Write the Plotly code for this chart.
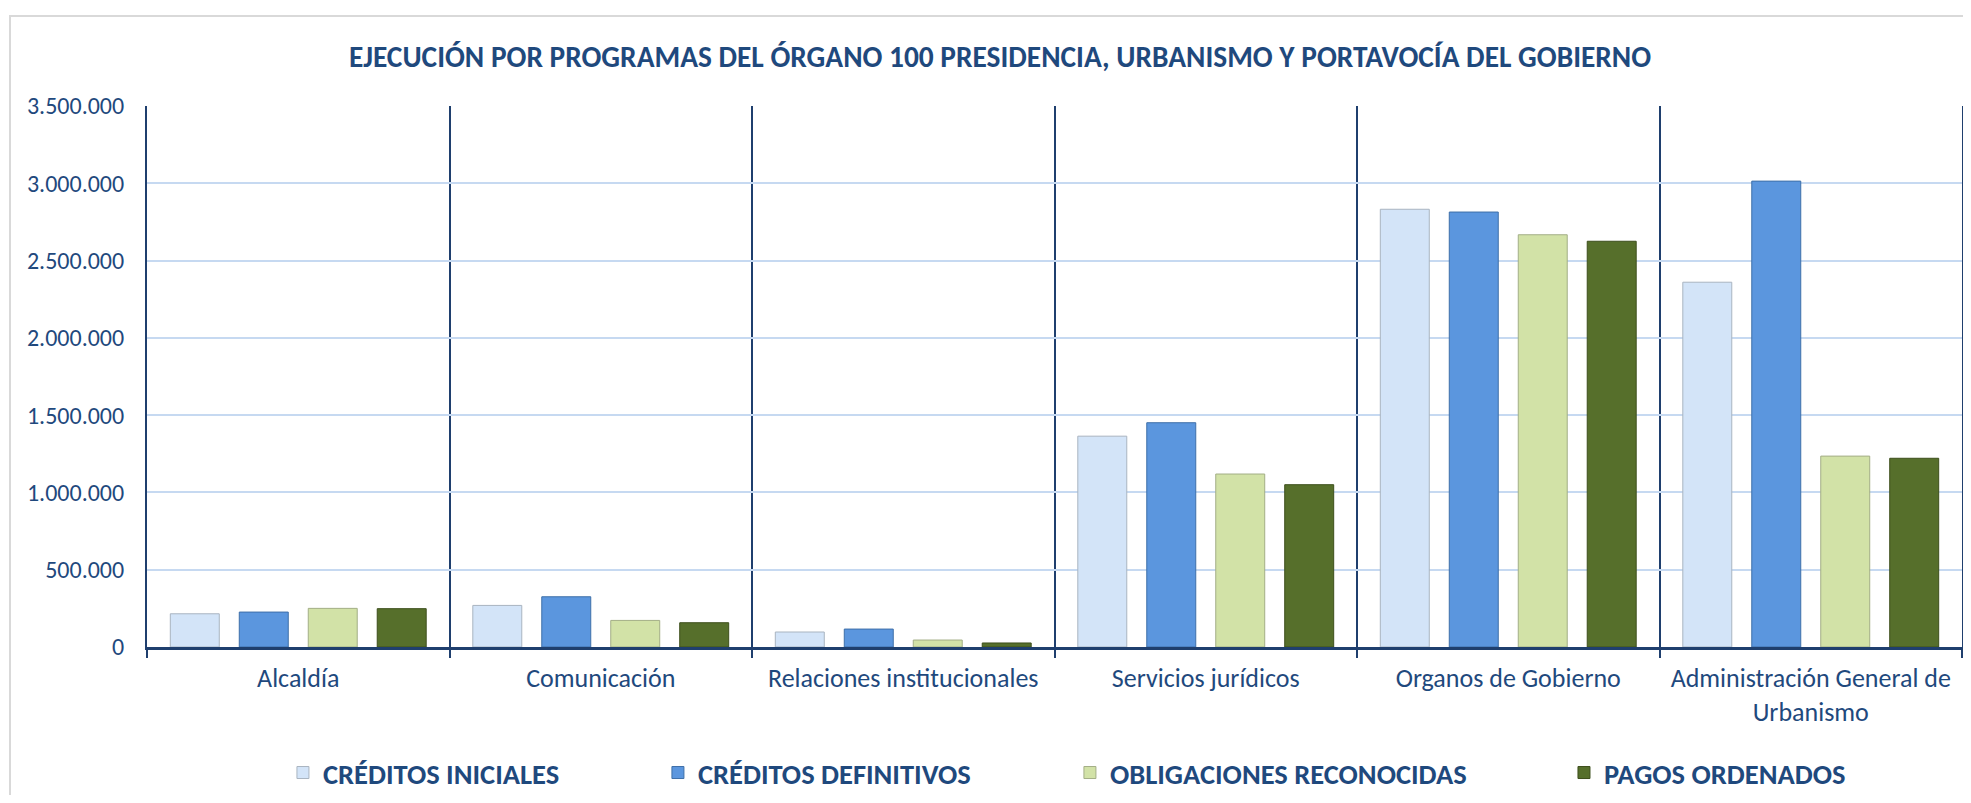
import plotly.graph_objects as go

categories = [
    "Alcaldía",
    "Comunicación",
    "Relaciones institucionales",
    "Servicios jurídicos",
    "Organos de Gobierno",
    "Administración General de<br>Urbanismo",
]
creditos_iniciales = [215000, 269000, 97000, 1364000, 2832000, 2360000]
creditos_definitivos = [226000, 325000, 116000, 1451000, 2814000, 3014000]
obligaciones_reconocidas = [250000, 172000, 45000, 1119000, 2667000, 1235000]
pagos_ordenados = [248000, 157000, 26000, 1050000, 2625000, 1221000]

series_names = ["CRÉDITOS INICIALES", "CRÉDITOS DEFINITIVOS",
                "OBLIGACIONES RECONOCIDAS", "PAGOS ORDENADOS"]
series_values = [creditos_iniciales, creditos_definitivos,
                 obligaciones_reconocidas, pagos_ordenados]
fill_colors = ["#D3E4F8", "#5B96DE", "#D2E2A7", "#566F2B"]
line_colors = ["#A9B4C0", "#3E6FA8", "#A3AE86", "#3D4F1C"]
legend_ids = ["legend", "legend2", "legend3", "legend4"]
legend_x = [0.0749, 0.2815, 0.5085, 0.7807]

TEXT = "#1F497D"
AXIS = "#1F3F6E"
GRID = "#C6D9F1"
FONT = "Calibri, Lato, sans-serif"

# page has an 8px body margin; figure sized to fit the 1971x803 window
W, H = 1955, 787
OFF = 8
PLOT_L, PLOT_R, PLOT_T, PLOT_B = 147, 1962, 106, 647  # page pixels

fig = go.Figure()
for name, vals, fc, lc, lg in zip(series_names, series_values, fill_colors,
                                  line_colors, legend_ids):
    fig.add_trace(go.Bar(
        x=categories, y=vals, name=name, legend=lg,
        marker=dict(color=fc, line=dict(color=lc, width=1)),
    ))

plot_h = PLOT_B - PLOT_T
plot_w = PLOT_R - PLOT_L
legend_common = dict(
    orientation="h", yanchor="middle", y=(PLOT_B - 773) / plot_h,
    xanchor="left",
    font=dict(family=FONT, size=28.5, color=TEXT, weight="bold"),
    bgcolor="rgba(0,0,0,0)", borderwidth=0,
)
layout_legends = {}
for lg, lx in zip(legend_ids, legend_x):
    layout_legends[lg] = dict(legend_common, x=lx)

fig.update_layout(
    width=W, height=H,
    paper_bgcolor="white", plot_bgcolor="white",
    margin=dict(l=PLOT_L - OFF, r=OFF + W - PLOT_R, t=PLOT_T - OFF,
                b=OFF + H - PLOT_B, autoexpand=False),
    separators=",.",
    barmode="group", bargap=0.088, bargroupgap=0.29,
    title=dict(
        text="<b>EJECUCIÓN POR PROGRAMAS DEL ÓRGANO 100 PRESIDENCIA, URBANISMO Y PORTAVOCÍA DEL GOBIERNO</b>",
        x=(1000 - OFF) / W, xref="container", xanchor="center",
        y=1 - (57 - OFF) / H, yref="container", yanchor="middle",
        font=dict(family=FONT, size=29.4, color=TEXT),
    ),
    showlegend=True,
    **layout_legends,
)

fig.update_xaxes(
    type="category", tickson="boundaries",
    showgrid=True, gridcolor=AXIS, gridwidth=1.5,
    ticks="outside", ticklen=8, tickwidth=1.5, tickcolor=AXIS,
    showline=True, linecolor=AXIS, linewidth=3,
    tickfont=dict(family=FONT, size=26, color=TEXT),
    ticklabelstandoff=6, automargin=False,
)
fig.update_yaxes(
    range=[0, 3500000], dtick=500000, tickformat=",.0f",
    showgrid=True, gridcolor=GRID, gridwidth=2,
    zeroline=False,
    showline=True, linecolor=AXIS, linewidth=2, mirror=True,
    ticks="", tickfont=dict(family=FONT, size=24, color=TEXT),
    ticklabelstandoff=16, automargin=False,
)

# light outer chart border
fig.add_shape(
    type="rect", xref="paper", yref="paper",
    x0=(10 - PLOT_L) / plot_w, x1=1.3, y0=-0.6, y1=(PLOT_B - 16) / plot_h,
    line=dict(color="#D9D9D9", width=2), fillcolor="rgba(0,0,0,0)",
    layer="below",
)

fig.write_html("out.html")
